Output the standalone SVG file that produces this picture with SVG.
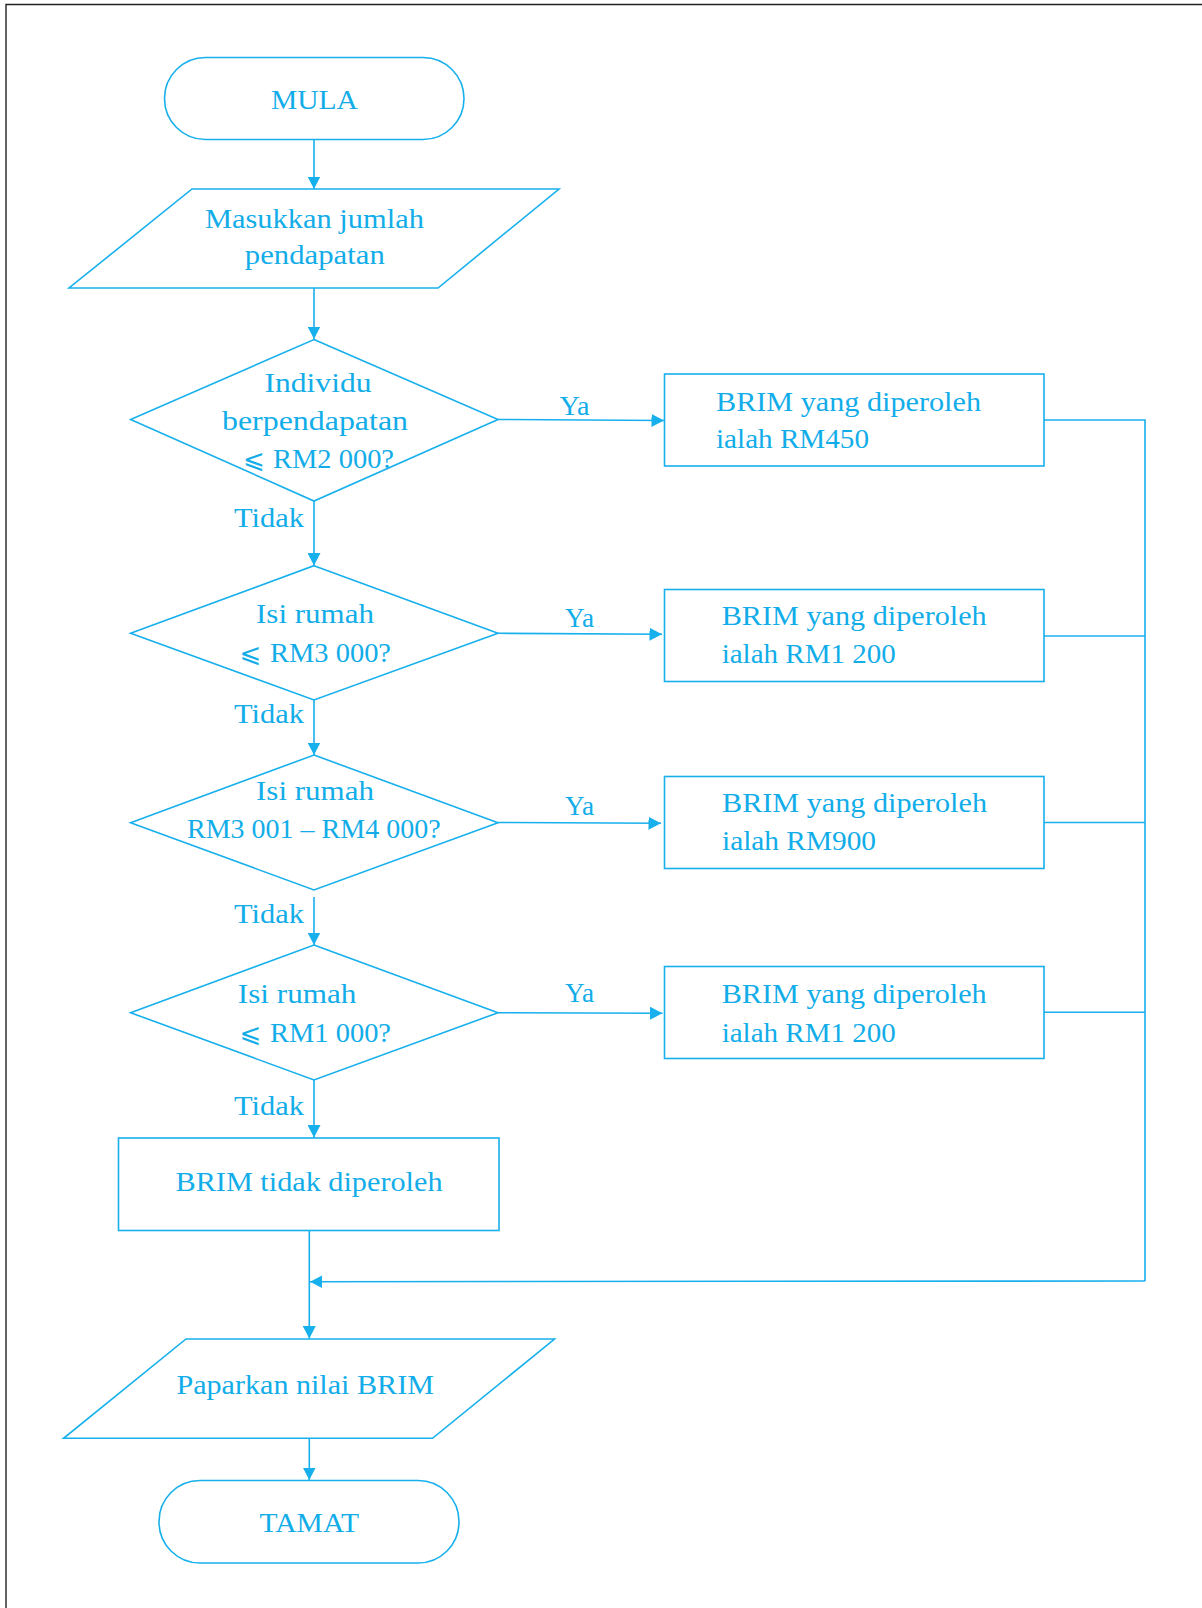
<svg xmlns="http://www.w3.org/2000/svg" width="1202" height="1608" viewBox="0 0 1202 1608">
  <style>
    .shape { fill: #ffffff; stroke: #17b0ec; stroke-width: 1.6; }
    .line { fill: none; stroke: #17b0ec; stroke-width: 1.6; }
    .arrow { fill: none; stroke: #17b0ec; stroke-width: 1.6; marker-end: url(#ah); }
    text { font-family: "Liberation Serif", "DejaVu Serif", serif; font-size: 28px; fill: #12ade9; }
    .c { text-anchor: middle; }
    .sym { font-family: "DejaVu Sans", "Noto Sans", sans-serif; font-size: 26px; }
  </style>
  <defs>
    <marker id="ah" markerWidth="13" markerHeight="13" refX="12.5" refY="6.5" orient="auto" markerUnits="userSpaceOnUse">
      <path d="M0,0 L12.5,6.5 L0,13 z" fill="#17b0ec"/>
    </marker>
  </defs>

  <!-- page frame -->
  <path d="M6,1608 V4.5 H1202" fill="none" stroke="#222" stroke-width="1.4"/>

  <!-- connectors -->
  <g id="connectors">
    <line class="arrow" x1="314" y1="139.5" x2="314" y2="189"/>
    <line class="arrow" x1="314" y1="288" x2="314" y2="339"/>
    <line class="arrow" x1="314" y1="501" x2="314" y2="565.5"/>
    <line class="arrow" x1="314" y1="700" x2="314" y2="755"/>
    <line class="arrow" x1="314" y1="897" x2="314" y2="945"/>
    <line class="arrow" x1="314" y1="1080" x2="314" y2="1137.5"/>
    <line class="arrow" x1="498" y1="419.5" x2="664" y2="420.5"/>
    <line class="arrow" x1="498" y1="633.3" x2="662" y2="634.3"/>
    <line class="arrow" x1="498" y1="822.5" x2="661" y2="823.3"/>
    <line class="arrow" x1="498" y1="1012.7" x2="662.5" y2="1013.3"/>
    <polyline class="line" points="1044,420 1145,420 1145,1281"/>
    <line class="line" x1="1044" y1="636" x2="1145" y2="636"/>
    <line class="line" x1="1044" y1="822.5" x2="1145" y2="822.5"/>
    <line class="line" x1="1044" y1="1012.3" x2="1145" y2="1012.3"/>
    <line class="arrow" x1="1145" y1="1281" x2="310" y2="1281.7"/>
    <line class="arrow" x1="309.3" y1="1230.5" x2="309.3" y2="1338.5"/>
    <line class="arrow" x1="309.3" y1="1438.3" x2="309.3" y2="1480"/>
    <text x="574.5" y="415" class="c" textLength="30" lengthAdjust="spacingAndGlyphs">Ya</text>
    <text x="579.5" y="626.7" class="c" textLength="29" lengthAdjust="spacingAndGlyphs">Ya</text>
    <text x="579.5" y="815" class="c" textLength="29" lengthAdjust="spacingAndGlyphs">Ya</text>
    <text x="579.5" y="1001.7" class="c" textLength="29" lengthAdjust="spacingAndGlyphs">Ya</text>
    <text x="234" y="527.3" textLength="70" lengthAdjust="spacingAndGlyphs">Tidak</text>
    <text x="234" y="723.3" textLength="70" lengthAdjust="spacingAndGlyphs">Tidak</text>
    <text x="234" y="922.7" textLength="70" lengthAdjust="spacingAndGlyphs">Tidak</text>
    <text x="234" y="1115" textLength="70" lengthAdjust="spacingAndGlyphs">Tidak</text>
  </g>

  <g id="mula">
    <rect class="shape" x="164.5" y="57.5" width="299.5" height="82" rx="41"/>
    <text x="314.4" y="108.5" class="c" textLength="87" lengthAdjust="spacingAndGlyphs">MULA</text>
  </g>

  <g id="input">
    <polygon class="shape" points="192,189 559,189 438,288 69,288"/>
    <text x="314.4" y="228" class="c" textLength="219" lengthAdjust="spacingAndGlyphs">Masukkan jumlah</text>
    <text x="314.8" y="263.5" class="c" textLength="140" lengthAdjust="spacingAndGlyphs">pendapatan</text>
  </g>

  <g id="decision-1">
    <polygon class="shape" points="314,339.5 498,419.5 314,501 130.6,419.5"/>
    <text x="318" y="391.7" class="c" textLength="107" lengthAdjust="spacingAndGlyphs">Individu</text>
    <text x="315" y="430" class="c" textLength="186" lengthAdjust="spacingAndGlyphs">berpendapatan</text>
    <text x="243" y="467.7"><tspan class="sym">⩽</tspan><tspan x="273" textLength="121" lengthAdjust="spacingAndGlyphs">RM2 000?</tspan></text>
  </g>

  <g id="decision-2">
    <polygon class="shape" points="314,565.7 498,633.3 314,700 130.6,633.3"/>
    <text x="315" y="623.3" class="c" textLength="118" lengthAdjust="spacingAndGlyphs">Isi rumah</text>
    <text x="239.5" y="661.7"><tspan class="sym">⩽</tspan><tspan x="270" textLength="121" lengthAdjust="spacingAndGlyphs">RM3 000?</tspan></text>
  </g>

  <g id="decision-3">
    <polygon class="shape" points="314,755 498,822.7 314,890 130.6,822.7"/>
    <text x="315" y="800" class="c" textLength="118" lengthAdjust="spacingAndGlyphs">Isi rumah</text>
    <text x="313.8" y="837.7" class="c" textLength="253.6" lengthAdjust="spacingAndGlyphs">RM3 001 – RM4 000?</text>
  </g>

  <g id="decision-4">
    <polygon class="shape" points="314,945 498,1012.7 314,1080 130.6,1012.7"/>
    <text x="297.1" y="1003.3" class="c" textLength="118.6" lengthAdjust="spacingAndGlyphs">Isi rumah</text>
    <text x="239.5" y="1041.7"><tspan class="sym">⩽</tspan><tspan x="270" textLength="121" lengthAdjust="spacingAndGlyphs">RM1 000?</tspan></text>
  </g>

  <g id="brim-450">
    <rect class="shape" x="664.5" y="374" width="379.5" height="92"/>
    <text x="716" y="410.7" textLength="265" lengthAdjust="spacingAndGlyphs">BRIM yang diperoleh</text>
    <text x="716" y="448.3" textLength="153" lengthAdjust="spacingAndGlyphs">ialah RM450</text>
  </g>

  <g id="brim-1200-a">
    <rect class="shape" x="664.5" y="589.5" width="379.5" height="92"/>
    <text x="721.7" y="625" textLength="265" lengthAdjust="spacingAndGlyphs">BRIM yang diperoleh</text>
    <text x="721.7" y="663.3" textLength="174" lengthAdjust="spacingAndGlyphs">ialah RM1 200</text>
  </g>

  <g id="brim-900">
    <rect class="shape" x="664.5" y="776.5" width="379.5" height="92"/>
    <text x="722" y="812" textLength="265" lengthAdjust="spacingAndGlyphs">BRIM yang diperoleh</text>
    <text x="722" y="850" textLength="154" lengthAdjust="spacingAndGlyphs">ialah RM900</text>
  </g>

  <g id="brim-1200-b">
    <rect class="shape" x="664.5" y="966.5" width="379.5" height="92"/>
    <text x="721.7" y="1003.3" textLength="265" lengthAdjust="spacingAndGlyphs">BRIM yang diperoleh</text>
    <text x="721.7" y="1041.7" textLength="174" lengthAdjust="spacingAndGlyphs">ialah RM1 200</text>
  </g>

  <g id="brim-none">
    <rect class="shape" x="118.5" y="1138" width="380.5" height="92.5"/>
    <text x="309" y="1190.7" class="c" textLength="267" lengthAdjust="spacingAndGlyphs">BRIM tidak diperoleh</text>
  </g>

  <g id="output">
    <polygon class="shape" points="186,1339 554.5,1339 432.5,1438.3 63.6,1438.3"/>
    <text x="305.2" y="1394.3" class="c" textLength="257.5" lengthAdjust="spacingAndGlyphs">Paparkan nilai BRIM</text>
  </g>

  <g id="tamat">
    <rect class="shape" x="159" y="1480.5" width="300" height="82.5" rx="41"/>
    <text x="309.3" y="1531.7" class="c" textLength="99.4" lengthAdjust="spacingAndGlyphs">TAMAT</text>
  </g>
</svg>
